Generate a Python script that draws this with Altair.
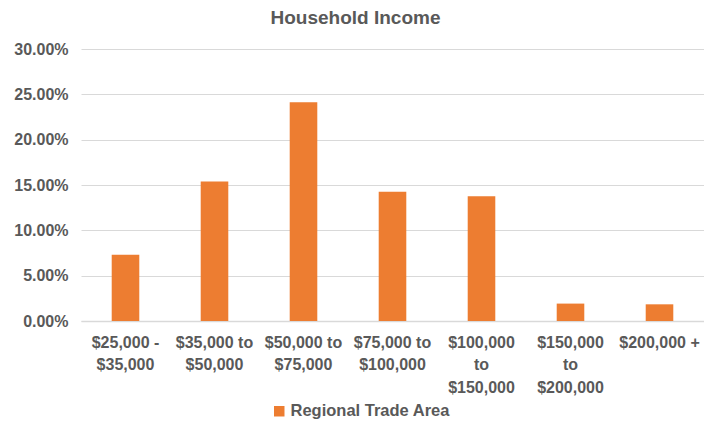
import altair as alt
import pandas as pd

categories = ["$25,000 -|$35,000", "$35,000 to|$50,000", "$50,000 to|$75,000",
              "$75,000 to|$100,000", "$100,000|to|$150,000", "$150,000|to|$200,000",
              "$200,000 +"]
values = [0.0731, 0.1538, 0.2412, 0.1425, 0.1377, 0.0192, 0.0184]
series = ["Regional Trade Area"] * len(categories)

df = pd.DataFrame({"cat": categories, "val": values, "series": series})

TXT = "#595959"
FONT = "Liberation Sans"

chart = alt.Chart(df).mark_bar(color="#ED7D31").encode(
    x=alt.X("cat:N", sort=categories, title=None,
            scale=alt.Scale(paddingInner=0.69, paddingOuter=0.345),
            axis=alt.Axis(labelExpr="split(datum.label, '|')", labelAngle=0,
                          labelFont=FONT, labelFontSize=16, labelFontWeight="bold",
                          labelColor=TXT, labelPadding=13, labelLineHeight=22.5,
                          ticks=False, domainColor="#D9D9D9", domainWidth=1.5,
                          labelBaseline="top")),
    y=alt.Y("val:Q", title=None,
            scale=alt.Scale(domain=[0, 0.3]),
            axis=alt.Axis(format=".2%", values=[0, 0.05, 0.1, 0.15, 0.2, 0.25, 0.3],
                          labelFont=FONT, labelFontSize=16, labelFontWeight="bold",
                          labelColor=TXT, labelPadding=13, ticks=False, domain=False,
                          gridColor="#D9D9D9", gridWidth=1.2)),
    fill=alt.Fill("series:N", scale=alt.Scale(range=["#ED7D31"]),
                  legend=alt.Legend(title=None, orient="none", legendX=190, legendY=354,
                                    symbolType="square", symbolSize=110,
                                    labelFont=FONT, labelFontSize=16.5,
                                    labelFontWeight="bold", labelColor=TXT,
                                    labelOffset=3)),
).properties(
    width=623, height=272,
    autosize=alt.AutoSizeParams(type="none"),
    padding={"left": 73, "top": 41, "right": 0, "bottom": 101},
    title=alt.TitleParams("Household Income", font=FONT, fontSize=19,
                          fontWeight="bold", color=TXT, anchor="middle",
                          dx=-37, offset=13),
).configure_view(stroke=None)

chart.save("out.html", embed_options={"renderer": "svg", "actions": False})
